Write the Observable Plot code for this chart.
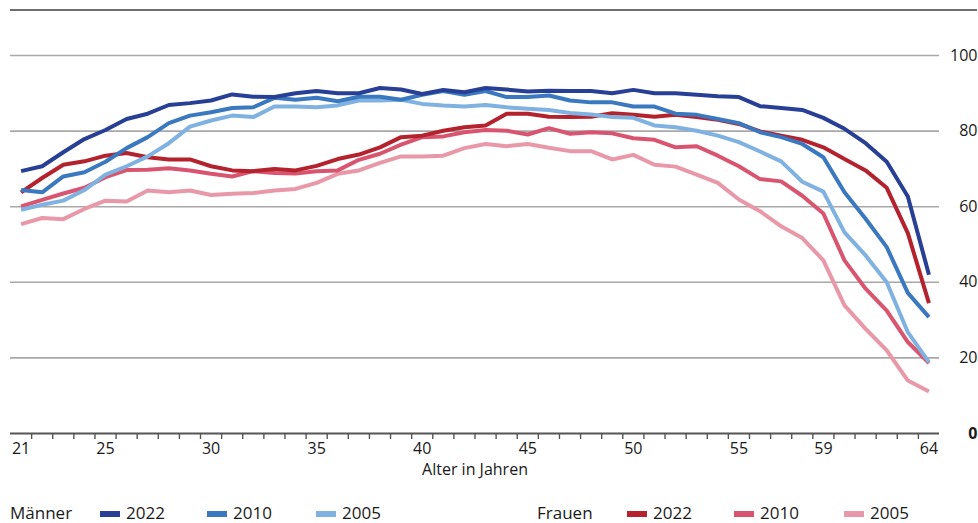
<!DOCTYPE html>
<html><head><meta charset="utf-8">
<script src="https://cdn.jsdelivr.net/npm/d3@7"></script>
<script src="https://cdn.jsdelivr.net/npm/@observablehq/plot@0.6"></script>
<style>
body{margin:0;background:#fff;font-family:"Open Sans",sans-serif;color:#1a1a1a;}
#wrap{position:relative;width:978px;height:523px;overflow:hidden;}
#topline{position:absolute;left:10px;top:9px;width:967px;border-top:2px solid #6e6e6e;}
#chart{position:absolute;left:0;top:0;}
.lg{position:absolute;font-size:17px;line-height:18px;top:504px;white-space:nowrap;}
.sw{position:absolute;top:511px;width:20px;height:6px;}
</style></head>
<body>
<div id="wrap"><div id="chart"></div><div id="topline"></div></div>
<script>
const ages = [21,22,23,24,25,26,27,28,29,30,31,32,33,34,35,36,37,38,39,40,41,42,43,44,45,46,47,48,49,50,51,52,53,54,55,56,57,58,59,60,61,62,63,64];
const xTickLabels = [21,25,30,35,40,45,50,55,59,64];
const yTicks = [20,40,60,80,100];

const men2022 = [69.4,70.7,74.4,77.9,80.3,83.2,84.6,86.9,87.4,88.1, 89.7,89.1,89.0,90.0,90.6,90.0,90.0,91.4,91.0,89.8, 90.9,90.3,91.4,91.0,90.5,90.7,90.6,90.6,90.0,90.9, 90.0,90.0,89.6,89.2,89.0,86.6,86.1,85.6,83.5,80.6, 76.8,71.9,62.7,42.0];
const men2010 = [64.4,63.8,68.0,69.1,71.9,75.5,78.4,82.1,84.1,85.0, 86.1,86.3,88.8,88.3,88.8,87.9,89.1,89.1,88.3,89.6, 90.6,89.6,90.6,89.0,89.0,89.4,88.1,87.6,87.6,86.5, 86.5,84.6,84.3,83.2,82.1,79.7,78.4,76.6,73.1,63.8, 56.8,49.3,37.2,30.8];
const men2005 = [59.2,60.5,61.6,64.4,68.5,70.7,73.3,76.8,81.2,82.8, 84.1,83.7,86.5,86.5,86.3,86.8,88.1,88.1,88.3,87.2, 86.8,86.5,86.9,86.3,85.9,85.6,84.8,84.4,83.7,83.5, 81.5,81.0,80.1,78.8,77.1,74.6,72.0,66.6,64.0,53.2, 47.1,40.0,26.8,18.9];
const women2022 = [63.8,67.6,71.1,72.0,73.5,74.2,73.1,72.5,72.5,70.7, 69.6,69.4,70.0,69.6,70.8,72.6,73.8,75.7,78.4,78.8, 80.1,81.0,81.5,84.6,84.6,83.8,83.7,83.8,84.7,84.3, 83.8,84.3,83.7,83.0,81.9,79.9,78.8,77.7,75.7,72.6, 69.6,65.0,53.0,34.5];
const women2010 = [60.1,61.8,63.5,65.0,67.8,69.7,69.8,70.2,69.6,68.7, 68.0,69.4,68.9,68.8,69.4,69.6,72.4,74.0,76.4,78.4, 78.6,79.7,80.3,80.1,79.1,80.8,79.3,79.7,79.4,78.1, 77.7,75.7,76.0,73.5,70.7,67.3,66.7,62.9,58.2,45.8, 38.3,32.5,24.2,18.6];
const women2005 = [55.4,57.0,56.7,59.4,61.6,61.4,64.3,63.8,64.3,63.1, 63.4,63.6,64.3,64.7,66.3,68.7,69.6,71.6,73.3,73.3, 73.5,75.5,76.6,76.0,76.6,75.6,74.7,74.7,72.5,73.7, 71.1,70.6,68.5,66.3,61.9,58.8,54.8,51.7,45.8,33.9, 27.7,22.0,14.0,11.1];

const groups = ["Männer","Frauen"];
const years = ["2022","2010","2005"];
const colors = {
  "Männer": ["#283f96","#3a78c0","#80b2e1"],
  "Frauen": ["#b4232d","#d9556f","#e898a8"]
};
const seriesValues = {
  "Männer": [men2022, men2010, men2005],
  "Frauen": [women2022, women2010, women2005]
};

const series = [];
for (const g of groups) years.forEach((yr, i) => series.push({g, yr, color: colors[g][i], values: seriesValues[g][i]}));
const drawOrder = [...series].reverse();

const lineMarks = drawOrder.map(s => Plot.line(ages.map((a, j) => ({age: a, v: s.values[j]})), {
  x: "age", y: "v", stroke: s.color, strokeWidth: 4, strokeLinejoin: "miter", strokeLinecap: "butt"
}));

const minorTicks = ages.slice(0, -1).map(a => a + 0.5);

const chart = Plot.plot({
  width: 978, height: 490,
  marginLeft: 10, marginRight: 39, marginTop: 55, marginBottom: 57,
  style: {fontFamily: '"Open Sans", sans-serif', fontSize: "16px", color: "#1a1a1a", background: "transparent"},
  x: {type: "linear", domain: [20.5, 64.5]},
  y: {domain: [0, 100]},
  marks: [
    Plot.ruleY(yTicks, {stroke: "#a8a8a8", strokeWidth: 1.6}),
    ...lineMarks,
    Plot.ruleY([0], {stroke: "#555", strokeWidth: 2.2}),
    Plot.axisX({ticks: minorTicks, tickSize: 6, tickFormat: () => "", stroke: "#555", strokeWidth: 1.4, label: null}),
    Plot.axisX({ticks: xTickLabels, tickSize: 0, tickPadding: 9, fontSize: 16, label: null, fill: "#1a1a1a"}),
    Plot.text(["Alter in Jahren"], {frameAnchor: "bottom", dy: 41, fontSize: 16, fill: "#1a1a1a"}),
    Plot.axisY({ticks: yTicks, anchor: "right", tickSize: 0, tickPadding: 38, textAnchor: "end", fontSize: 16, label: null, fill: "#1a1a1a"}),
    Plot.axisY({ticks: [0], anchor: "right", tickSize: 0, tickPadding: 38, textAnchor: "end", fontSize: 16, fontWeight: "bold", label: null, fill: "#1a1a1a"})
  ]
});
document.getElementById("chart").appendChild(chart);

// legend
const wrap = document.getElementById("wrap");
const legendLayout = {
  "Männer": {label: 10, items: [100, 207, 316]},
  "Frauen": {label: 537, items: [627, 734, 844]}
};
for (const g of groups) {
  const lab = document.createElement("div");
  lab.className = "lg"; lab.textContent = g; lab.style.left = legendLayout[g].label + "px";
  wrap.appendChild(lab);
  years.forEach((yr, i) => {
    const sw = document.createElement("div");
    sw.className = "sw"; sw.style.left = legendLayout[g].items[i] + "px"; sw.style.background = colors[g][i];
    wrap.appendChild(sw);
    const t = document.createElement("div");
    t.className = "lg"; t.textContent = yr; t.style.left = (legendLayout[g].items[i] + 26) + "px";
    wrap.appendChild(t);
  });
}
</script>
</body></html>
